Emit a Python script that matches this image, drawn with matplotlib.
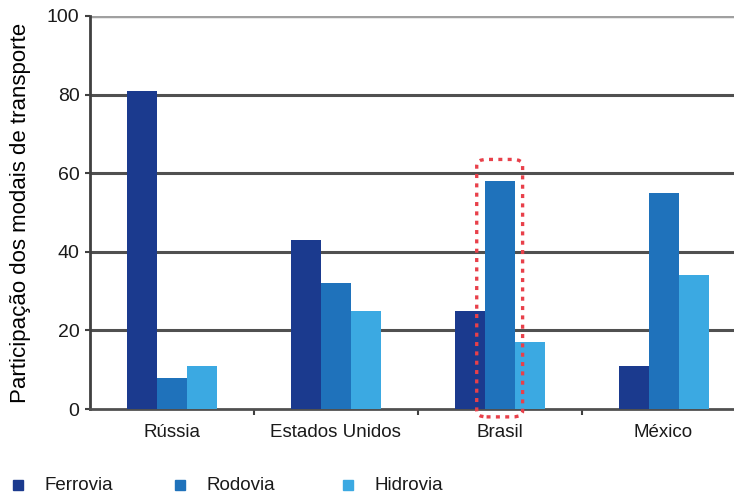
import numpy as np
import matplotlib
matplotlib.use('Agg')
import matplotlib.pyplot as plt
from matplotlib.patches import FancyBboxPatch, Rectangle

paises = ['Rússia', 'Estados Unidos', 'Brasil', 'México']
modais = ['Ferrovia', 'Rodovia', 'Hidrovia']
ferrovia = [81, 43, 25, 11]
rodovia = [8, 32, 58, 55]
hidrovia = [11, 25, 17, 34]
cores = ['#1b3a8e', '#1f72bb', '#3ba9e2']

plt.rcParams['font.family'] = ['Liberation Sans', 'DejaVu Sans']
plt.rcParams['text.color'] = '#1a1a1a'

fig = plt.figure(figsize=(7.34, 4.95), dpi=100)
ax = fig.add_axes([0.1226, 0.1737, 0.8774, 0.794])

x = np.arange(len(paises))
w = 0.183
for i, (vals, cor) in enumerate(zip([ferrovia, rodovia, hidrovia], cores)):
    ax.bar(x + (i - 1) * w, vals, w, color=cor, zorder=3, linewidth=0)

ax.set_ylim(0, 100)
ax.set_xlim(-0.5, 3.43)
ax.set_yticks([0, 20, 40, 60, 80, 100])
ax.set_yticklabels(['0', '20', '40', '60', '80', '100'], fontsize=14, color='#1a1a1a')
for g in [20, 40, 60, 80]:
    ax.axhline(g, color='#505050', lw=2.2, zorder=1)
ax.axhline(100, color='#a0a0a0', lw=2.5, zorder=1)

ax.set_xticks(x)
ax.set_xticklabels(paises, fontsize=13.5, color='#1a1a1a')
ax.set_xticks(np.arange(0.5, 3.5, 1), minor=True)
ax.tick_params(axis='x', which='major', length=0, pad=11)
ax.tick_params(axis='x', which='minor', length=4, width=1.5, color='#404040')
ax.tick_params(axis='y', length=3.5, width=1.5, color='#404040', pad=4)

for s in ['top', 'right']:
    ax.spines[s].set_visible(False)
ax.spines['left'].set_color('#404040')
ax.spines['left'].set_linewidth(2)
ax.spines['bottom'].set_color('#505050')
ax.spines['bottom'].set_linewidth(2)

ax.set_ylabel('Participação dos modais de transporte', fontsize=16)
ax.yaxis.set_label_coords(-0.092, 0.5)

# destaque no Brasil (rodovia)
caixa = FancyBboxPatch((2 - 0.14, -2), 0.28, 65.5,
                       boxstyle='round,pad=0,rounding_size=0.06',
                       fill=False, edgecolor='#e8404a', linestyle=(0, (1.2, 1.6)),
                       linewidth=2.4, zorder=4, clip_on=False,
                       mutation_aspect=25)
ax.add_patch(caixa)

# legenda manual
leg_x = [13, 175, 343]
for px, cor, nome in zip(leg_x, cores, modais):
    fig.patches.append(Rectangle((px / 734, 1 - 490 / 495), 10 / 734, 10 / 495,
                                 transform=fig.transFigure, color=cor, figure=fig))
    fig.text((px + 31) / 734, 1 - 485 / 495, nome, fontsize=13.5, va='center', ha='left')

fig.savefig('out.png', dpi=100)
